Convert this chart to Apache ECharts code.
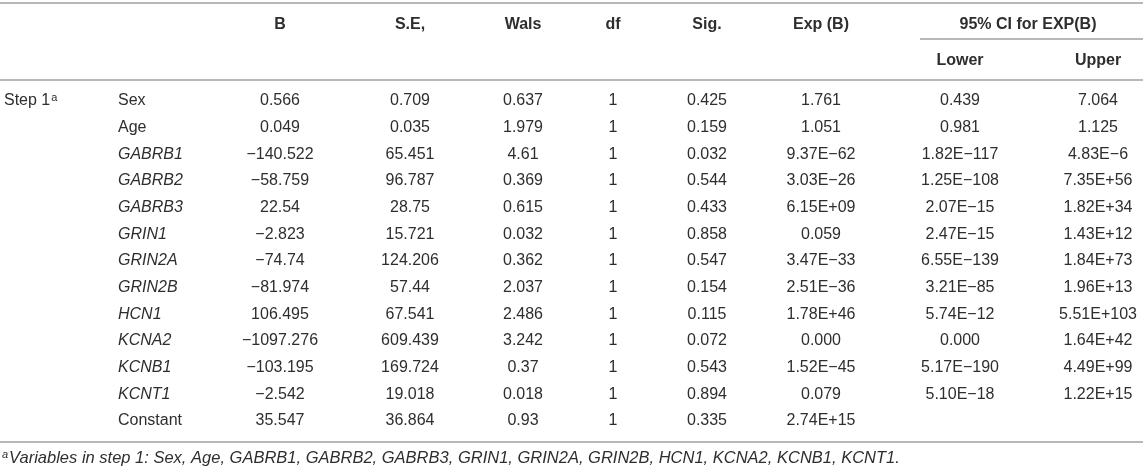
<!DOCTYPE html>
<html>
<head>
<meta charset="utf-8">
<script src="https://cdn.jsdelivr.net/npm/echarts@6/dist/echarts.min.js"></script>
<style>
  html, body { margin: 0; padding: 0; background: #fff; }
  #tableChart { width: 1143px; height: 470px; }
</style>
</head>
<body>
<div id="tableChart"></div>
<script>
// table content
const headers = ["B", "S.E,", "Wals", "df", "Sig.", "Exp (B)"];
const ciHeader = "95% CI for EXP(B)";
const ciSubHeaders = ["Lower", "Upper"];
const stepLabel = "Step 1";
const variables = ["Sex", "Age", "GABRB1", "GABRB2", "GABRB3", "GRIN1", "GRIN2A",
  "GRIN2B", "HCN1", "KCNA2", "KCNB1", "KCNT1", "Constant"];
const italicVars = [false, false, true, true, true, true, true, true, true, true, true, true, false];
const colB = ["0.566", "0.049", "\u2212140.522", "\u221258.759", "22.54", "\u22122.823", "\u221274.74",
  "\u221281.974", "106.495", "\u22121097.276", "\u2212103.195", "\u22122.542", "35.547"];
const colSE = ["0.709", "0.035", "65.451", "96.787", "28.75", "15.721", "124.206",
  "57.44", "67.541", "609.439", "169.724", "19.018", "36.864"];
const colWals = ["0.637", "1.979", "4.61", "0.369", "0.615", "0.032", "0.362",
  "2.037", "2.486", "3.242", "0.37", "0.018", "0.93"];
const colDf = ["1", "1", "1", "1", "1", "1", "1", "1", "1", "1", "1", "1", "1"];
const colSig = ["0.425", "0.159", "0.032", "0.544", "0.433", "0.858", "0.547",
  "0.154", "0.115", "0.072", "0.543", "0.894", "0.335"];
const colExp = ["1.761", "1.051", "9.37E\u221262", "3.03E\u221226", "6.15E+09", "0.059", "3.47E\u221233",
  "2.51E\u221236", "1.78E+46", "0.000", "1.52E\u221245", "0.079", "2.74E+15"];
const colLower = ["0.439", "0.981", "1.82E\u2212117", "1.25E\u2212108", "2.07E\u221215", "2.47E\u221215", "6.55E\u2212139",
  "3.21E\u221285", "5.74E\u221212", "0.000", "5.17E\u2212190", "5.10E\u221218", ""];
const colUpper = ["7.064", "1.125", "4.83E\u22126", "7.35E+56", "1.82E+34", "1.43E+12", "1.84E+73",
  "1.96E+13", "5.51E+103", "1.64E+42", "4.49E+99", "1.22E+15", ""];
const footnote = "Variables in step 1: Sex, Age, GABRB1, GABRB2, GABRB3, GRIN1, GRIN2A, GRIN2B, HCN1, KCNA2, KCNB1, KCNT1.";

// layout
const font = "Liberation Sans, Arial, Helvetica, sans-serif";
const fs = "16px ";
const textColor = "#2e2e2e";
const lineColor = "#b8b8b8";
const colX = [280, 410, 523, 613, 707, 821, 960, 1098];
const stepX = 4;
const varX = 118;
const headY = 25;
const subHeadY = 61;
const firstRowY = 101;
const rowH = 26.67;

const columnsData = [colB, colSE, colWals, colDf, colSig, colExp, colLower, colUpper];

const hline = (x1, x2, y) => ({
  type: "line",
  shape: { x1, y1: y, x2, y2: y },
  style: { stroke: lineColor, lineWidth: 2 },
  silent: true,
});

const txt = (x, y, text, opts) => ({
  type: "text",
  x,
  y,
  silent: true,
  style: Object.assign({
    text,
    fill: textColor,
    font: fs + font,
    align: "center",
    verticalAlign: "middle",
  }, opts || {}),
});

const elements = [];
elements.push(hline(0, 1143, 3));
elements.push(hline(920, 1143, 39));
elements.push(hline(0, 1143, 80));

headers.forEach((h, i) => {
  elements.push(txt(colX[i], headY, h, { font: "bold " + fs + font }));
});
elements.push(txt(1028, headY, ciHeader, { font: "bold " + fs + font }));
ciSubHeaders.forEach((h, i) => {
  elements.push(txt(colX[6 + i], subHeadY, h, { font: "bold " + fs + font }));
});

// step label with superscript
elements.push({
  type: "text",
  x: stepX,
  y: firstRowY,
  silent: true,
  style: {
    text: "{n|" + stepLabel + "}{s|a}",
    fill: textColor,
    align: "left",
    verticalAlign: "middle",
    rich: {
      n: { font: fs + font, fill: textColor },
      s: { font: "11px " + font, fill: textColor, padding: [0, 0, 7, 1] },
    },
  },
});

variables.forEach((v, r) => {
  const y = firstRowY + r * rowH;
  elements.push(txt(varX, y, v, {
    align: "left",
    font: (italicVars[r] ? "italic " : "") + fs + font,
  }));
  columnsData.forEach((col, c) => {
    if (col[r]) elements.push(txt(colX[c], y, col[r]));
  });
});

elements.push(hline(0, 1143, 442));

elements.push({
  type: "text",
  x: 2,
  y: 458,
  silent: true,
  style: {
    text: "{s|a}{n|" + footnote + "}",
    fill: textColor,
    align: "left",
    verticalAlign: "middle",
    rich: {
      n: { font: "italic 16.5px " + font, fill: textColor },
      s: { font: "italic 11px " + font, fill: textColor, padding: [0, 1, 7, 0] },
    },
  },
});

const chart = echarts.init(document.getElementById("tableChart"), null, { renderer: "canvas" });
chart.setOption({
  backgroundColor: "#ffffff",
  animation: false,
  graphic: { elements },
});
</script>
</body>
</html>
